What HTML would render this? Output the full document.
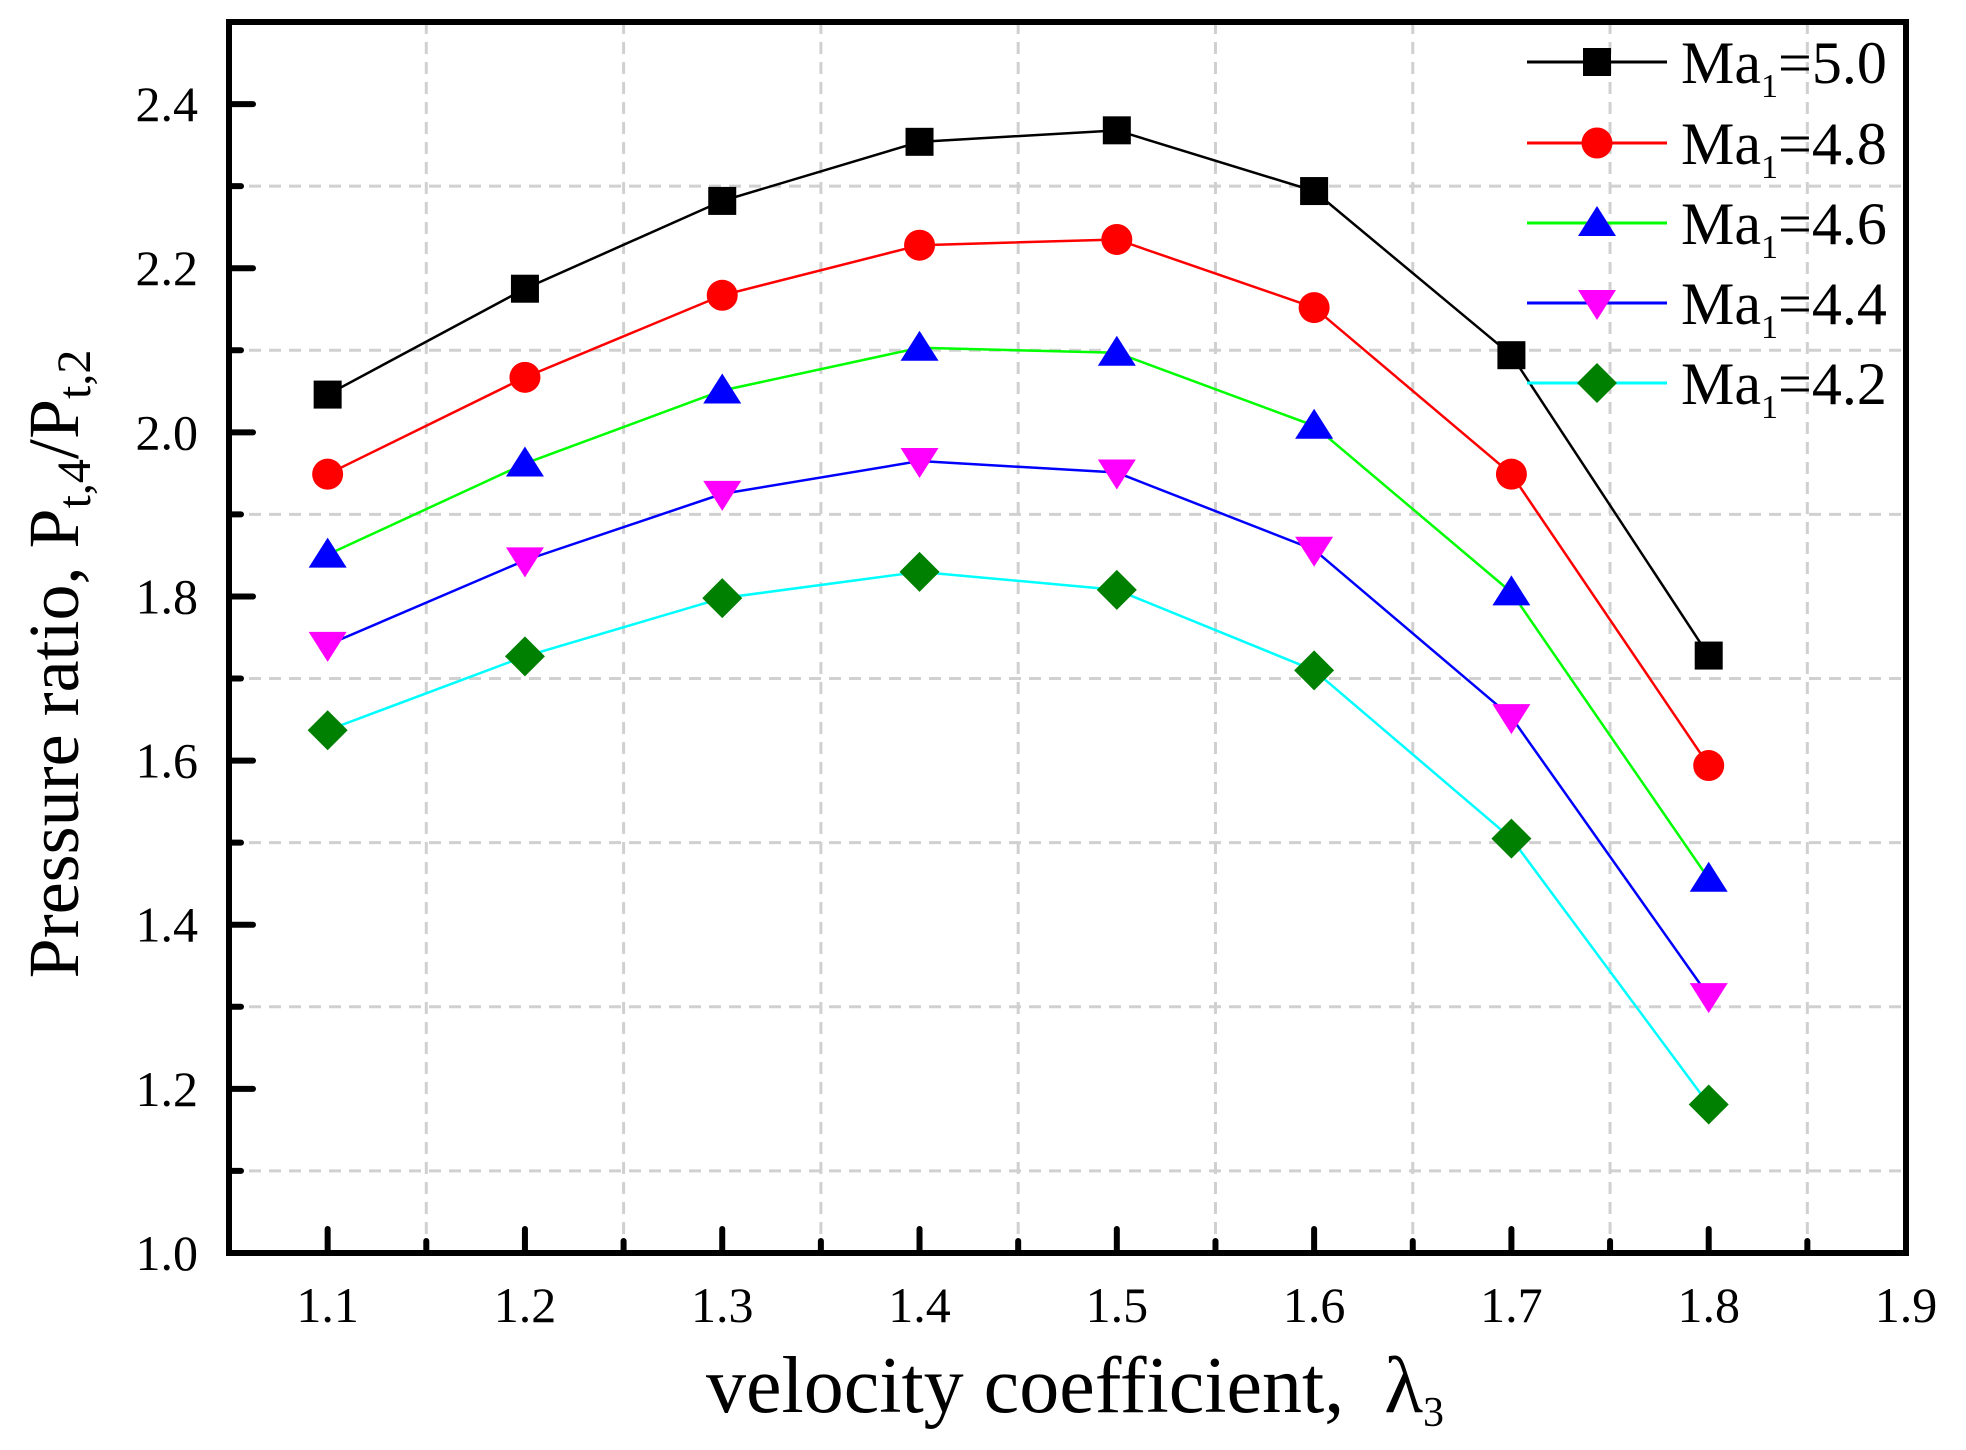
<!DOCTYPE html>
<html><head><meta charset="utf-8"><style>
body{margin:0;background:#fff}
svg{display:block;font-family:"Liberation Serif",serif}
</style></head><body>
<svg id="chart" width="1966" height="1450" viewBox="0 0 1966 1450" xmlns="http://www.w3.org/2000/svg">
<g id="grid"></g>
<g id="series"></g>
<rect x="229" y="22" width="1677" height="1231" fill="none" stroke="#000" stroke-width="6"/>
<g id="ticks"></g>
<g id="legend"></g>
<text x="1075" y="1412" font-size="80" text-anchor="middle" xml:space="preserve">velocity coefficient,  λ<tspan font-size="42" dy="14">3</tspan></text>
<text transform="translate(78,664) rotate(-90)" font-size="72" text-anchor="middle">Pressure ratio, P<tspan font-size="48" dy="12">t,4</tspan><tspan dy="-12">/P</tspan><tspan font-size="48" dy="12">t,2</tspan></text>
</svg>
<script>
const xCats = [1.1, 1.2, 1.3, 1.4, 1.5, 1.6, 1.7, 1.8];
const ma50 = [2.046, 2.175, 2.282, 2.354, 2.368, 2.294, 2.094, 1.728];
const ma48 = [1.949, 2.067, 2.167, 2.228, 2.235, 2.152, 1.949, 1.594];
const ma46 = [1.851, 1.962, 2.051, 2.103, 2.097, 2.008, 1.805, 1.456];
const ma44 = [1.741, 1.844, 1.925, 1.965, 1.951, 1.857, 1.653, 1.313];
const ma42 = [1.637, 1.727, 1.798, 1.830, 1.808, 1.710, 1.505, 1.181];
const seriesNames = ["Ma=5.0", "Ma=4.8", "Ma=4.6", "Ma=4.4", "Ma=4.2"];
const legendValues = ["5.0", "4.8", "4.6", "4.4", "4.2"];
const xTicks = ["1.1","1.2","1.3","1.4","1.5","1.6","1.7","1.8","1.9"];
const yTicks = ["1.0","1.2","1.4","1.6","1.8","2.0","2.2","2.4"];

const NS = "http://www.w3.org/2000/svg";
const X0 = 1.05, X1 = 1.9, PX0 = 229, PX1 = 1906;
const Y0 = 1.0, Y1 = 2.5, PY0 = 1253, PY1 = 22;
function sx(v){return PX0 + (v - X0) / (X1 - X0) * (PX1 - PX0);}
function sy(v){return PY0 - (v - Y0) / (Y1 - Y0) * (PY0 - PY1);}
function mk(tag, attrs, parent){const e=document.createElementNS(NS,tag);for(const k in attrs)e.setAttribute(k,attrs[k]);parent.appendChild(e);return e;}

const grid = document.getElementById('grid');
const ticks = document.getElementById('ticks');
for (let i = 0; i < 8; i++) {
  const v = 1.15 + i * 0.1;
  const g = mk('line', {x1:sx(v), x2:sx(v), y1:PY1, y2:PY0, stroke:'#d0d0d0', 'stroke-width':3, 'stroke-dasharray':'12,8'}, grid);
  
  
}
for (let i = 0; i < 7; i++) {
  const v = 1.1 + i * 0.2;
  const g = mk('line', {x1:PX0, x2:PX1, y1:sy(v), y2:sy(v), stroke:'#d0d0d0', 'stroke-width':3, 'stroke-dasharray':'12,8'}, grid);
  
  
}
xTicks.forEach((t) => {
  const v = parseFloat(t), x = sx(v);
  const l = mk('line', {x1:x, x2:x, y1:PY0, y2:PY0 - 24, stroke:'#000', 'stroke-width':6, 'stroke-linecap':'round'}, ticks);
  
  
  const m = mk('line', {x1:sx(v + 0.05), x2:sx(v + 0.05), y1:PY0, y2:PY0 - 12, stroke:'#000', 'stroke-width':6, 'stroke-linecap':'round'}, ticks);
  
  
  const tx = mk('text', {x:x, y:1322, 'font-size':50, 'text-anchor':'middle'}, ticks);
  tx.textContent = t;
  
  
});
yTicks.forEach((t) => {
  const v = parseFloat(t), y = sy(v);
  const l = mk('line', {x1:PX0, x2:PX0 + 24, y1:y, y2:y, stroke:'#000', 'stroke-width':6, 'stroke-linecap':'round'}, ticks);
  
  
  if (v < 2.45) {
    const m = mk('line', {x1:PX0, x2:PX0 + 12, y1:sy(v + 0.1), y2:sy(v + 0.1), stroke:'#000', 'stroke-width':6, 'stroke-linecap':'round'}, ticks);
    
    
  }
  const tx = mk('text', {x:198, y:y + 17, 'font-size':50, 'text-anchor':'end'}, ticks);
  tx.textContent = t;
  
  
});

const allSeries = [ma50, ma48, ma46, ma44, ma42];
const lineColors = ['#000', '#ff0000', '#00ff00', '#0000ff', '#00ffff'];
const markColors = ['#000', '#ff0000', '#0000ff', '#ff00ff', '#008000'];
const shapes = ['square', 'circle', 'up', 'down', 'diamond'];
function marker(shape, x, y, color, parent) {
  let e;
  if (shape === 'square') e = mk('rect', {x:x-14, y:y-14, width:28, height:28, fill:color}, parent);
  else if (shape === 'circle') e = mk('circle', {cx:x, cy:y, r:15.5, fill:color}, parent);
  else if (shape === 'up') e = mk('polygon', {points:`${x},${y-17} ${x-19},${y+13} ${x+19},${y+13}`, fill:color}, parent);
  else if (shape === 'down') e = mk('polygon', {points:`${x},${y+17} ${x-19},${y-13} ${x+19},${y-13}`, fill:color}, parent);
  else e = mk('polygon', {points:`${x},${y-20} ${x+20},${y} ${x},${y+20} ${x-20},${y}`, fill:color}, parent);
  return e;
}
const sg = document.getElementById('series');
allSeries.forEach((vals, si) => {
  const g = mk('g', {}, sg);
  
  
  const pts = vals.map((v, i) => sx(xCats[i]) + ',' + sy(v)).join(' ');
  const pl = mk('polyline', {points:pts, fill:'none', stroke:lineColors[si], 'stroke-width':2.5}, g);
  
  
  vals.forEach((v, i) => {
    const m = marker(shapes[si], sx(xCats[i]), sy(v), markColors[si], g);
    
    
  });
});

const lg = document.getElementById('legend');
const rowY = [62, 143, 223, 303, 383];
legendValues.forEach((val, i) => {
  const g = mk('g', {}, lg);
  
  
  const y = rowY[i];
  mk('line', {x1:1527, x2:1667, y1:y, y2:y, stroke:lineColors[i], 'stroke-width':3}, g);
  const m = marker(shapes[i], 1597, y, markColors[i], g);
  
  
  const t = mk('text', {x:1681, y:y + 21, 'font-size':60}, g);
  
  
  t.innerHTML = 'Ma<tspan font-size="34" dy="14">1</tspan><tspan dy="-14">=' + val + '</tspan>';
});
</script>
</body></html>
